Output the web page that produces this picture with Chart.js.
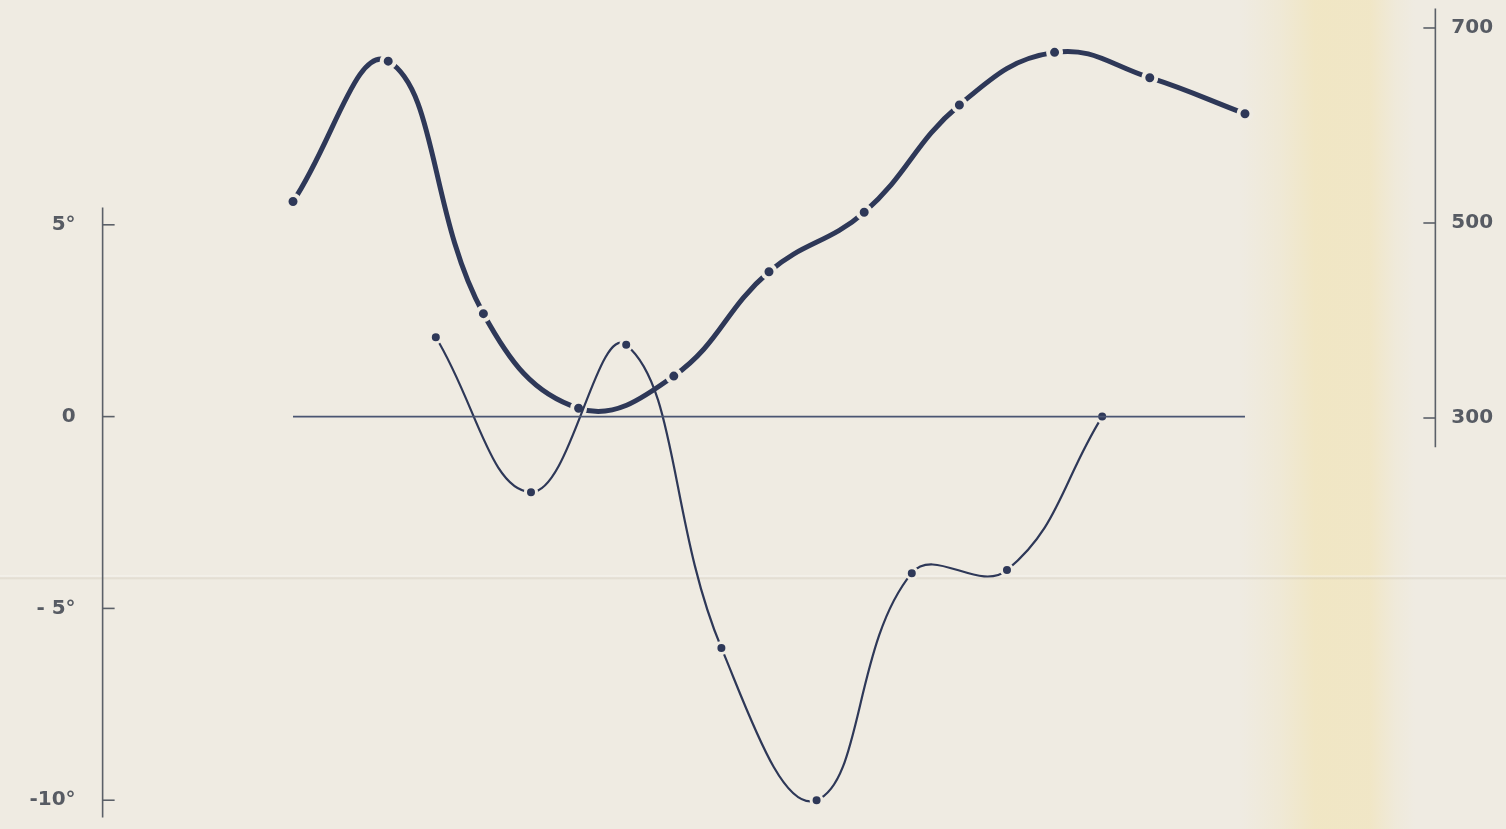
<!DOCTYPE html>
<html>
<head>
<meta charset="utf-8">
<script src="https://cdn.jsdelivr.net/npm/chart.js@4.4.1/dist/chart.umd.min.js"></script>
<style>
    html, body { margin: 0; padding: 0; }
    body {
        width: 1506px;
        height: 829px;
        overflow: hidden;
        background-color: #efebe2;
        background-image:
            linear-gradient(to bottom, transparent 575px, rgba(255,255,255,0.5) 576px, rgba(190,180,160,0.3) 578px, transparent 580px),
            linear-gradient(to right, transparent 1240px, rgba(240,225,170,0.22) 1280px, rgba(242,224,160,0.45) 1315px, rgba(242,224,160,0.42) 1370px, rgba(240,225,170,0.15) 1395px, transparent 1415px);
    }
    #wrap { position: relative; width: 1506px; height: 829px; }
</style>
</head>
<body>
<div id="wrap"><canvas id="chart"></canvas></div>
<script>
    // courbe épaisse (échelle de droite)
    const thickPos = [0, 1, 2, 3, 4, 5, 6, 7, 8, 9, 10];
    const thickVals = [522, 666, 407, 310, 343, 450, 511, 621, 675, 649, 612];

    // courbe fine (échelle de gauche, en degrés)
    const thinPos = [1.5, 2.5, 3.5, 4.5, 5.5, 6.5, 7.5, 8.5];
    const thinVals = [2.07, -1.97, 1.87, -6.03, -10.0, -4.08, -4.0, 0];

    // ligne du zéro
    const zeroPos = [0, 10];
    const zeroVals = [0, 0];

    const leftTicks = [5, 0, -5, -10];
    const leftLabels = ['5°', '0', '- 5°', '-10°'];
    const rightTicks = [700, 500, 300];
    const rightLabels = ['700', '500', '300'];

    const ink = '#2e3858';
    const paper = '#efebe2';
    const axisColor = '#5b6068';
    const labelColor = '#575b63';

    const toPoints = (xs, ys) => xs.map((x, i) => ({ x: x, y: ys[i] }));

    const axesPlugin = {
        id: 'paperAxes',
        beforeDatasetsDraw(chart) {
            const ctx = chart.ctx;
            const xs = chart.scales.x;
            const yl = chart.scales.yLeft;
            const yr = chart.scales.yRight;
            const lx = xs.getPixelForValue(-2);
            const rx = xs.getPixelForValue(12);

            ctx.save();
            ctx.strokeStyle = axisColor;
            ctx.lineWidth = 1.6;

            // axe gauche
            ctx.beginPath();
            ctx.moveTo(lx, yl.getPixelForValue(5.45));
            ctx.lineTo(lx, yl.getPixelForValue(-10.45));
            ctx.stroke();
            leftTicks.forEach(t => {
                const y = yl.getPixelForValue(t);
                ctx.beginPath();
                ctx.moveTo(lx, y);
                ctx.lineTo(lx + 12, y);
                ctx.stroke();
            });

            // axe droit
            ctx.beginPath();
            ctx.moveTo(rx, yr.getPixelForValue(720));
            ctx.lineTo(rx, yr.getPixelForValue(270));
            ctx.stroke();
            rightTicks.forEach(t => {
                const y = yr.getPixelForValue(t);
                ctx.beginPath();
                ctx.moveTo(rx, y);
                ctx.lineTo(rx - 12, y);
                ctx.stroke();
            });

            ctx.fillStyle = labelColor;
            ctx.font = 'bold 20px "DejaVu Sans"';
            ctx.textBaseline = 'middle';
            ctx.textAlign = 'right';
            leftTicks.forEach((t, i) => {
                ctx.fillText(leftLabels[i], lx - 27, yl.getPixelForValue(t));
            });
            ctx.textAlign = 'left';
            rightTicks.forEach((t, i) => {
                ctx.fillText(rightLabels[i], rx + 16, yr.getPixelForValue(t));
            });
            ctx.restore();
        }
    };

    new Chart(document.getElementById('chart'), {
        type: 'line',
        data: {
            datasets: [
                {
                    data: toPoints(zeroPos, zeroVals),
                    yAxisID: 'yLeft',
                    borderColor: '#4a5572',
                    borderWidth: 1.6,
                    pointRadius: 0,
                    tension: 0
                },
                {
                    data: toPoints(thinPos, thinVals),
                    yAxisID: 'yLeft',
                    borderColor: ink,
                    borderWidth: 2.2,
                    tension: 0.42,
                    pointRadius: 5.5,
                    pointBackgroundColor: ink,
                    pointBorderColor: paper,
                    pointBorderWidth: 3
                },
                {
                    data: toPoints(thickPos, thickVals),
                    yAxisID: 'yRight',
                    borderColor: ink,
                    borderWidth: 5,
                    tension: 0.42,
                    pointRadius: 6.5,
                    pointBackgroundColor: ink,
                    pointBorderColor: paper,
                    pointBorderWidth: 4
                }
            ]
        },
        options: {
            responsive: true,
            maintainAspectRatio: false,
            animation: false,
            layout: { padding: 0, autoPadding: false },
            plugins: { legend: { display: false }, tooltip: { enabled: false } },
            elements: { line: { capBezierPoints: false } },
            scales: {
                x: { type: 'linear', display: false, min: -3.078, max: 12.742 },
                yLeft: { type: 'linear', display: false, min: -10.75, max: 10.86 },
                yRight: { type: 'linear', display: false, min: -121.5, max: 728.7 }
            }
        },
        plugins: [axesPlugin]
    });
</script>
</body>
</html>
